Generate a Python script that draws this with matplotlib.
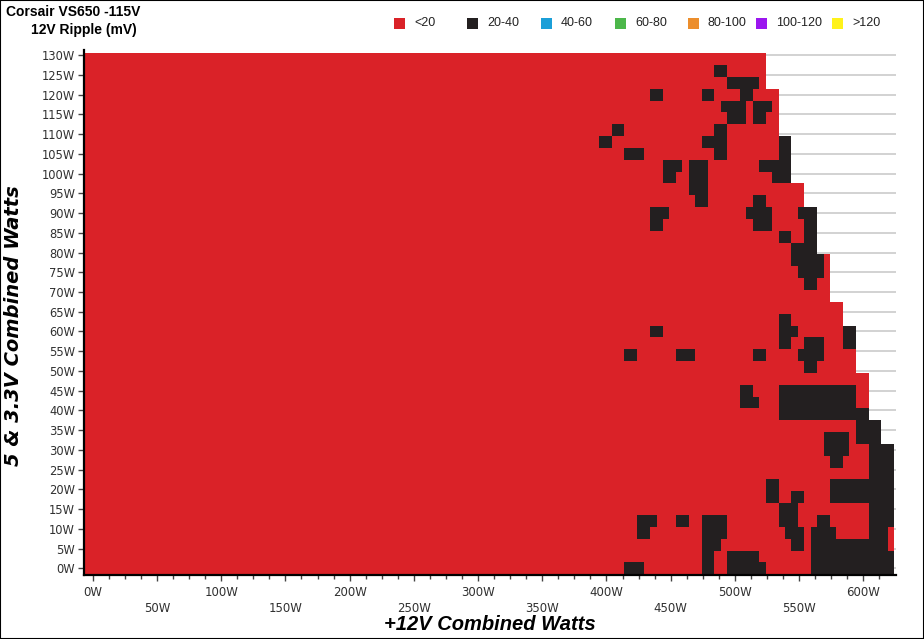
import numpy as np
import matplotlib.pyplot as plt
from matplotlib.colors import ListedColormap
from matplotlib.patches import Rectangle

# ripple map, 12V ripple class per measured cell
# rows: 5 & 3.3V load from 129W (top) down to 0W, one row every 3W
# columns: +12V load, one column every 5W, only 384W..624W written out,
# everything below 384W is <20 mV on every row
# '.' = <20 mV   '#' = 20-40 mV   '-' = not measured
ripple_rows = [
    "........ ........ ........ ....---- -------- --------",
    "........ ........ ....##.. ....---- -------- --------",
    "........ ........ ......## ###.---- -------- --------",
    "........ ..##.... ..##.... ##....-- -------- --------",
    "........ ........ .....### #.###.-- -------- --------",
    "........ ........ ......## #.##..-- -------- --------",
    "....##.. ........ ....##.. ......-- -------- --------",
    "..##.... ........ ..####.. ......## -------- --------",
    "......## #....... ....##.. ......## -------- --------",
    "........ ....###. ###..... ...##### -------- --------",
    "........ ....##.. ###..... .....### -------- --------",
    "........ ........ ###..... ........ ..------ --------",
    "........ ........ .##..... ..##.... ..------ --------",
    "........ ..###... ........ .####... .###---- --------",
    "........ ..##.... ........ ..###... ..##---- --------",
    "........ ........ ........ ......## ..##---- --------",
    "........ ........ ........ ........ ####---- --------",
    "........ ........ ........ ........ #####.-- --------",
    "........ ........ ........ ........ .####.-- --------",
    "........ ........ ........ ........ ..##..-- --------",
    "........ ........ ........ ........ ......-- --------",
    "........ ........ ........ ........ ........ --------",
    "........ ........ ........ ......## ........ --------",
    "........ ..##.... ........ ......## #....... ##------",
    "........ ........ ........ ......## ..###... ##------",
    "......## ......## #....... ..##.... .####... ..------",
    "........ ........ ........ ........ ..##.... ..------",
    "........ ........ ........ ........ ........ ....----",
    "........ ........ ........ ##....## ######## ##..----",
    "........ ........ ........ ###...## ######## ##..----",
    "........ ........ ........ ......## ######## ####----",
    "........ ........ ........ ........ ........ ..####--",
    "........ ........ ........ ........ .....### #.####--",
    "........ ........ ........ ........ .....### #...####",
    "........ ........ ........ ........ ......## ....####",
    "........ ........ ........ ........ ........ ....####",
    "........ ........ ........ ....##.. ......## ########",
    "........ ........ ........ ....##.. ##....## ########",
    "........ ........ ........ ......## #....... ....####",
    "........ ###...## ..####.. ......## #...##.. ....####",
    "........ ##...... ..####.. .......# ##.####. ....###.",
    "........ ........ ..###... ........ ##.##### #######.",
    "........ ........ ..##..## ###..... ...##### ########",
    "......## #....... ..##..## ####.... ...##### ########",
]
detail_start = 384      # W, first written column
x_start = -6            # W, left edge of first column
cell_w = 5              # W per column
cell_h = 3              # W per row
x_end = 624

legend_labels = ['<20', '20-40', '40-60', '60-80', '80-100', '100-120', '>120']
legend_colors = ['#da2228', '#231f20', '#1b9fd8', '#4cb74a', '#ec8e2c', '#9b16ef', '#fff21a']

# build the grid
n_cols = (x_end - x_start) // cell_w
n_rows = len(ripple_rows)
first_detail = (detail_start - x_start) // cell_w
codes = {'.': 0, '#': 1, '-': np.nan}
grid = np.full((n_rows, n_cols), np.nan)
for r, row in enumerate(ripple_rows):
    row = row.replace(' ', '')
    j = n_rows - 1 - r
    grid[j, :first_detail] = 0
    for p, ch in enumerate(row):
        grid[j, first_detail + p] = codes[ch]

x_edges = x_start + cell_w * np.arange(n_cols + 1)
y_edges = -cell_h / 2 + cell_h * np.arange(n_rows + 1)

W, H = 924, 639
fig = plt.figure(figsize=(W / 100, H / 100), dpi=100)
ax = fig.add_axes([84 / W, 1 - 575 / H, (896 - 84) / W, (575 - 50) / H])

ax.pcolormesh(x_edges, y_edges, np.ma.masked_invalid(grid),
              cmap=ListedColormap(legend_colors[:2]), vmin=-0.5, vmax=1.5,
              shading='flat', linewidth=0, antialiased=False)

ax.set_xlim(-6.8, 625.4)
ax.set_ylim(-1.7, 131.3)

# axes look
for s in ['top', 'right']:
    ax.spines[s].set_visible(False)
for s in ['left', 'bottom']:
    ax.spines[s].set_linewidth(1.6)
    ax.spines[s].set_color('black')
ax.set_axisbelow(True)
ax.yaxis.grid(True, color='#c6c6c6', linewidth=1.1)

yt = np.arange(0, 131, 5)
ax.set_yticks(yt)
ax.set_yticklabels([f'{v}W' for v in yt])
xt = np.arange(0, 601, 50)
ax.set_xticks(xt)
ax.set_xticklabels([f'{v}W' if v % 100 == 0 else f'\n{v}W' for v in xt], linespacing=1.25)
ax.set_xticks(np.arange(0, 625, 12.5), minor=True)
ax.tick_params(axis='y', length=4, width=1, color='#444444', labelsize=8.3,
               labelcolor='#303030', pad=2.5)
ax.tick_params(axis='x', which='major', length=4.5, width=1, color='#444444',
               labelsize=8.5, labelcolor='#303030', pad=3.5)
ax.tick_params(axis='x', which='minor', length=3, width=1, color='#444444')
for lab in ax.get_xticklabels() + ax.get_yticklabels():
    lab.set_family('DejaVu Sans')

# titles
fig.text(6 / W, 1 - 12 / H, 'Corsair VS650 -115V', fontsize=10, fontweight='bold',
         family='Liberation Sans', ha='left', va='center')
fig.text(31 / W, 1 - 30 / H, '12V Ripple (mV)', fontsize=10, fontweight='bold',
         family='Liberation Sans', ha='left', va='center')
fig.text(490 / W, 1 - 625 / H, '+12V Combined Watts', fontsize=14.5, fontweight='bold',
         style='italic', family='Liberation Sans', ha='center', va='center')
fig.text(14 / W, 1 - 326 / H, '5 & 3.3V Combined Watts', fontsize=14, fontweight='bold',
         style='italic', family='DejaVu Sans', ha='center', va='center', rotation=90)

# legend, laid out in fixed slots like the original
legend_x = [394, 467, 541, 615, 688, 756, 832]
for x0, c, lab in zip(legend_x, legend_colors, legend_labels):
    fig.add_artist(Rectangle((x0 / W, 1 - 29 / H), 11 / W, 11 / H,
                             transform=fig.transFigure, facecolor=c, edgecolor='none'))
    fig.text((x0 + 20) / W, 1 - 23.5 / H, lab, fontsize=9, family='Liberation Sans',
             ha='left', va='center', color='#222222')

fig.add_artist(Rectangle((0, 0), 1, 1, transform=fig.transFigure, fill=False,
                         edgecolor='black', linewidth=1.5))

fig.savefig('out.png', dpi=100)
